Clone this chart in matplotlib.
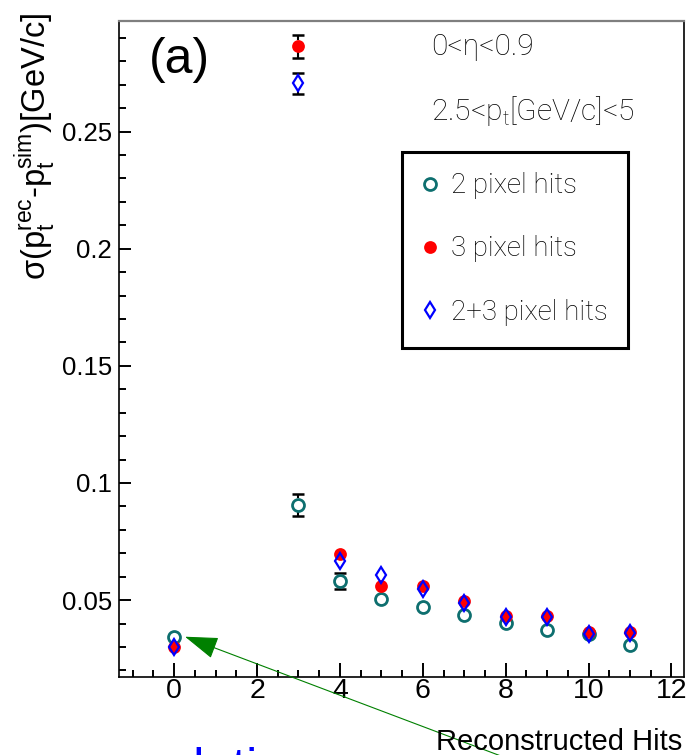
import matplotlib
matplotlib.use('Agg')
import matplotlib.pyplot as plt
from matplotlib.patches import Rectangle

# number of reconstructed hits and the sigma of the pt residual
hits = [0, 3, 4, 5, 6, 7, 8, 9, 10, 11]
two_pix = [0.0343, 0.0906, 0.0582, 0.0503, 0.0470, 0.0436, 0.0403, 0.0373, 0.0355, 0.0309]
two_err = [0, 0.0046, 0.0035, 0, 0, 0, 0, 0, 0, 0]
three_pix = [0.0298, 0.2865, 0.0695, 0.0560, 0.0560, 0.0496, 0.0432, 0.0432, 0.0362, 0.0363]
three_err = [0, 0.0049, 0, 0, 0, 0, 0, 0, 0, 0]
both_pix = [0.0298, 0.2706, 0.0668, 0.0607, 0.0548, 0.0486, 0.0426, 0.0426, 0.0357, 0.0360]
both_err = [0, 0.0044, 0, 0, 0, 0, 0, 0, 0, 0]

x_ticks = [0, 2, 4, 6, 8, 10, 12]
x_ticklabels = ['0', '2', '4', '6', '8', '10', '12']
y_ticks = [0.05, 0.10, 0.15, 0.20, 0.25]
y_ticklabels = ['0.05', '0.1', '0.15', '0.2', '0.25']

teal = '#0e6f6f'
W, H = 686, 755

plt.rcParams['font.family'] = ['Liberation Sans', 'DejaVu Sans']
plt.rcParams['mathtext.fontset'] = 'custom'
plt.rcParams['mathtext.sf'] = 'Liberation Sans'
plt.rcParams['mathtext.rm'] = 'Roboto:light'

fig = plt.figure(figsize=(W / 100, H / 100), dpi=100)
ax = fig.add_axes([119 / W, (H - 676.7) / H, (684.3 - 119) / W, (676.7 - 21) / H])
x0, x1 = -1.33, 12.31
y0, y1 = 0.0173, 0.2972
ax.set_xlim(x0, x1)
ax.set_ylim(y0, y1)

ax_h = 676.7 - 21
dy = (y1 - y0) / ax_h          # data units per pixel in y
dx = (x1 - x0) / (684.3 - 119)  # data units per pixel in x


def bars(x, y, err, r):
    # ROOT style: error bar only outside the marker
    for xi, yi, ei in zip(x, y, err):
        if ei <= r:
            continue
        ax.vlines([xi, xi], [yi + r, yi - ei], [yi + ei, yi - r], color='black', lw=1.5, zorder=2)
        ax.hlines([yi + ei, yi - ei], xi - 6 * dx, xi + 6 * dx, color='black', lw=1.8, zorder=2)


bars(hits, two_pix, two_err, 7 * dy)
bars(hits, three_pix, three_err, 6.3 * dy)
bars(hits, both_pix, both_err, 7 * dy)

h2, = ax.plot(hits, two_pix, ls='none', marker='o', ms=8.6, mfc='white', mec=teal, mew=2, zorder=3)
h3, = ax.plot(hits, three_pix, ls='none', marker='o', ms=9.2, mfc='red', mec='red', mew=0, zorder=4)
h23, = ax.plot(hits, both_pix, ls='none', marker='d', ms=8.6, mfc='none', mec='blue', mew=1.6, zorder=5)

ax.set_xticks(x_ticks)
ax.set_xticklabels(x_ticklabels, family=['Liberation Sans Narrow', 'Liberation Sans'], fontsize=20.5)
ax.set_xticks([v / 2 for v in range(-2, 25)], minor=True)
ax.set_yticks(y_ticks)
ax.set_yticklabels(y_ticklabels, fontsize=18.5)
ax.set_yticks([v / 100 for v in range(2, 30)], minor=True)
ax.tick_params(which='both', direction='in', top=False, right=False, width=1.4, color='black')
ax.tick_params(axis='x', which='major', length=10, pad=1)
ax.tick_params(axis='x', which='minor', length=5)
ax.tick_params(axis='y', which='major', length=8.5, pad=5)
ax.tick_params(axis='y', which='minor', length=5)

for s in ['left', 'bottom', 'right']:
    ax.spines[s].set_linewidth(1.2)
    ax.spines[s].set_color('black')
ax.spines['top'].set_color('#7f7f7f')
ax.spines['top'].set_linewidth(1.6)

# legend box
ax.add_patch(Rectangle((0.5006, 0.5013), 0.3998, 0.2989, transform=ax.transAxes,
                       fill=False, ec='black', lw=2.2, zorder=6))
ax.legend([h2, h3, h23], ['2 pixel hits', '3 pixel hits', '2+3 pixel hits'],
          loc='center left', bbox_to_anchor=((419 - 119) / (684.3 - 119), 1 - (249 - 21) / ax_h),
          frameon=False, borderpad=0, borderaxespad=0, handlelength=0.8, handletextpad=0.36,
          labelspacing=1.3, numpoints=1,
          prop={'family': ['Roboto', 'DejaVu Sans'], 'weight': 'light', 'size': 20})

thin = dict(family=['Roboto', 'DejaVu Sans'], weight='light', fontsize=21.5)
fig.text(431 / W, 1 - 55 / H, '0<η<0.9', va='baseline', **thin)
fig.text(431 / W, 1 - 120 / H, r'2.5<p$_\mathrm{t}$[GeV/c]<5', va='baseline', **thin)
fig.text(149 / W, 1 - 73 / H, '(a)', va='baseline', fontsize=36,
         family=['Liberation Sans Narrow', 'Liberation Sans'])

fig.text(35 / W, 1 - 13 / H, r'σ(p$_\mathsf{t}^\mathsf{rec}$-p$_\mathsf{t}^\mathsf{sim}$)[GeV/c]',
         rotation=90, ha='center', va='top', fontsize=23.5)
fig.text(682 / W, 1 - 750 / H, 'Reconstructed Hits', ha='right', va='baseline', fontsize=21)
fig.text(97 / W, 1 - 783 / H, 'resolution', color='blue', fontsize=36, va='baseline')

ax.annotate('', xy=(185, H - 636.7), xycoords='figure pixels',
            xytext=(530, H - 767), textcoords='figure pixels',
            arrowprops=dict(arrowstyle='-|>,head_length=2.1,head_width=0.7',
                            color='#008000', lw=0.8, shrinkA=0, shrinkB=0))

fig.savefig('out.png', dpi=100)
